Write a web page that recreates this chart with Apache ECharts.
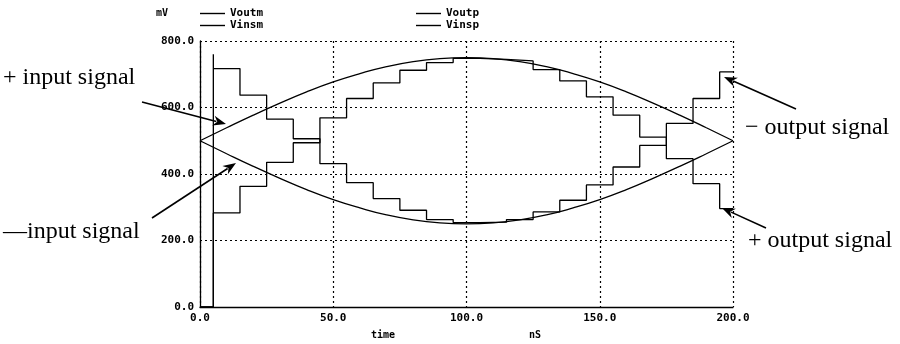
<!DOCTYPE html>
<html><head><meta charset="utf-8">
<script src="https://cdn.jsdelivr.net/npm/echarts@6/dist/echarts.min.js"></script>
<style>html,body{margin:0;padding:0;background:#fff}#c{width:900px;height:344px}</style>
</head><body><div id="c"></div>
<script>
// ---- data ----
const stepTimes = [5,15,25,35,45,55,65,75,85,95,105,115,125,135,145,155,165,175,185,195];
const voutm = [717,637,565,506,431,374,326,291,263,254,255,263,286,321,367,421,486,552,627,707];
const voutp = [283,363,435,494,569,627,674,712,735,748,745,740,714,680,632,577,511,446,371,296];
const voutmStart = [0, 760];   // value before first sample, spike at first sample time
const voutpStart = [0, 262];
const endTime = 200;
const inTimes = [0,10,20,30,40,50,60,70,80,90,100,110,120,130,140,150,160,170,180,190,200];
const vinsp = [500,539,577,613,647,677,702,723,738,747,750,747,738,723,702,677,647,613,577,539,500];
const vinsm = [500,461,423,387,353,323,298,277,262,253,250,253,262,277,298,323,353,387,423,461,500];
const xTicks = [0,50,100,150,200];
const yTicks = [0,200,400,600,800];

function stepSeries(startVals, vals) {
  const d = [[0, startVals[0]], [stepTimes[0], startVals[1]]];
  stepTimes.forEach((t, i) => d.push([t, vals[i]]));
  d.push([endTime, vals[vals.length - 1]]);
  return d;
}
const pairs = (xs, ys) => xs.map((x, i) => [x, ys[i]]);

const mono = 'DejaVu Sans Mono';
const serif = 'Liberation Serif';
const ink = '#000';

function arrow(tail, tip) {
  const dx = tip[0] - tail[0], dy = tip[1] - tail[1];
  const L = Math.hypot(dx, dy), ux = dx / L, uy = dy / L;
  const len = 13, hw = 5;
  const bx = tip[0] - ux * len, by = tip[1] - uy * len;
  return [
    { type: 'line', shape: { x1: tail[0], y1: tail[1], x2: bx + ux * 3, y2: by + uy * 3 }, style: { stroke: ink, lineWidth: 1.6 }, z: 100 },
    { type: 'polygon', shape: { points: [tip, [bx - uy * hw, by + ux * hw], [tip[0] - ux * (len - 4), tip[1] - uy * (len - 4)], [bx + uy * hw, by - ux * hw]] }, style: { fill: ink }, z: 100 }
  ];
}
function label(x, y, text, font, size, align) {
  return { type: 'text', x: x, y: y, z: 100, style: { text: text, fontFamily: font, fontSize: size, fill: ink, textAlign: align || 'left', textVerticalAlign: 'middle', fontWeight: font === mono ? 'bold' : 'normal' } };
}

const chart = echarts.init(document.getElementById('c'), null, { renderer: 'canvas' });
const lineW = 1.3;
const legendText = { fontFamily: mono, fontWeight: 'bold', fontSize: 11, color: ink, lineHeight: 10 };
const legendCommon = { orient: 'vertical', top: 8, icon: 'rect', itemWidth: 25, itemHeight: 1.4, itemGap: 1, textStyle: legendText, padding: 0 };
chart.setOption({
  animation: false,
  backgroundColor: '#fff',
  grid: { left: 200, right: 167, top: 41, bottom: 37 },
  legend: [
    Object.assign({ data: ['Voutm', 'Vinsm'], left: 200 }, legendCommon),
    Object.assign({ data: ['Voutp', 'Vinsp'], left: 416 }, legendCommon)
  ],
  xAxis: {
    type: 'value', min: xTicks[0], max: xTicks[xTicks.length - 1], interval: 50,
    axisLine: { show: true, onZero: false, lineStyle: { color: ink, width: 1.3 } },
    axisTick: { show: false },
    axisLabel: { formatter: v => v.toFixed(1), fontFamily: mono, fontWeight: 'bold', fontSize: 11, color: ink, margin: 6 },
    splitLine: { show: true, lineStyle: { color: ink, type: [2, 3], width: 1.2 } }
  },
  yAxis: {
    type: 'value', min: yTicks[0], max: yTicks[yTicks.length - 1], interval: 200,
    axisLine: { show: true, lineStyle: { color: ink, width: 1.3 } },
    axisTick: { show: false },
    axisLabel: { formatter: v => v.toFixed(1), fontFamily: mono, fontWeight: 'bold', fontSize: 11, color: ink, margin: 6 },
    splitLine: { show: true, lineStyle: { color: ink, type: [2, 3], width: 1.2 } }
  },
  series: [
    { name: 'Voutm', type: 'line', step: 'end', symbol: 'none', data: stepSeries(voutmStart, voutm), lineStyle: { color: ink, width: lineW }, itemStyle: { color: ink } },
    { name: 'Vinsm', type: 'line', smooth: true, symbol: 'none', data: pairs(inTimes, vinsm), lineStyle: { color: ink, width: lineW }, itemStyle: { color: ink } },
    { name: 'Voutp', type: 'line', step: 'end', symbol: 'none', data: stepSeries(voutpStart, voutp), lineStyle: { color: ink, width: lineW }, itemStyle: { color: ink } },
    { name: 'Vinsp', type: 'line', smooth: true, symbol: 'none', data: pairs(inTimes, vinsp), lineStyle: { color: ink, width: lineW }, itemStyle: { color: ink } }
  ],
  graphic: [
    label(162, 13, 'mV', mono, 10, 'center'),
    label(383, 335, 'time', mono, 10, 'center'),
    label(535, 335, 'nS', mono, 10, 'center'),
    label(3, 78, '+ input signal', serif, 24),
    label(3, 232, '\u2014input signal', serif, 24),
    label(745, 128, '\u2212 output signal', serif, 24),
    label(748, 241, '+ output signal', serif, 24),
    ...arrow([142, 102], [226, 124]),
    ...arrow([152, 218], [236, 163]),
    ...arrow([796, 109], [724, 77]),
    ...arrow([766, 228], [722, 208])
  ]
});
</script></body></html>
